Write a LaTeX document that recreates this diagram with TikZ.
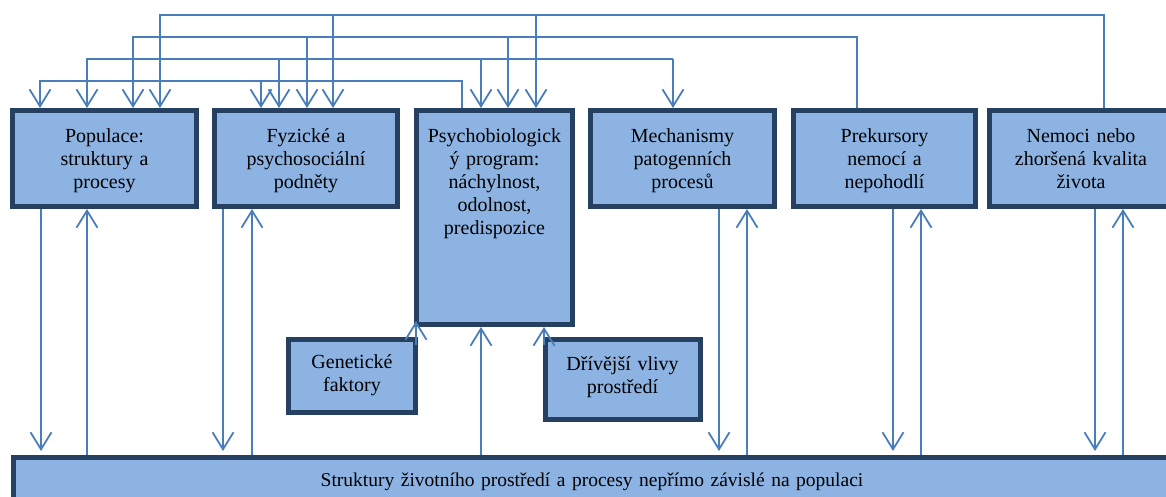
\documentclass[tikz,border=0pt]{standalone}
\usepackage{fontspec}
\setmainfont{Liberation Serif}
\usetikzlibrary{arrows.meta}
\definecolor{boxfill}{HTML}{8DB3E2}
\definecolor{boxline}{HTML}{254061}
\definecolor{linkblue}{HTML}{4A7EBB}

\begin{document}
\begin{tikzpicture}[x=1pt,y=-1pt,
  box/.style={rectangle, draw=boxline, line width=5pt, fill=boxfill,
    inner sep=0pt, anchor=north west},
  lbl/.style={anchor=base, align=center, text width=190pt, inner sep=0pt,
    font=\fontsize{20}{23}\selectfont},
  link/.style={draw=linkblue, line width=1.8pt},
  arr/.style={link, -{Straight Barb[length=17pt,width=21pt]}},
  down/.style={arr, shorten >=4pt},
]
\useasboundingbox (0,0) rectangle (1166,497);
\clip (0,0) rectangle (1166,497);

% boxes
\node[box, minimum width=184pt, minimum height=96pt]  (pop)  at (10,108)  {};
\node[box, minimum width=183pt, minimum height=96pt]  (fyz)  at (212,108) {};
\node[box, minimum width=156pt, minimum height=214pt] (psy)  at (414,108) {};
\node[box, minimum width=184pt, minimum height=96pt]  (mech) at (588,108) {};
\node[box, minimum width=182pt, minimum height=96pt]  (prek) at (791,108) {};
\node[box, minimum width=200pt, minimum height=96pt]  (nem)  at (987,108) {};
\node[box, minimum width=127pt, minimum height=73pt]  (gen)  at (286,337) {};
\node[box, minimum width=155pt, minimum height=80pt]  (dri)  at (543,337) {};
\node[box, minimum width=1180pt, minimum height=80pt] (env)  at (11,455)  {};

% labels
\node[lbl] (popT)  at (104.5,143) {Populace:\\struktury a\\procesy};
\node[lbl] (fyzT)  at (306,143)   {Fyzické a\\psychosociální\\podněty};
\node[lbl] (psyT)  at (494.5,143) {Psychobiologick\\ý program:\\náchylnost,\\odolnost,\\predispozice};
\node[lbl] (mechT) at (682.5,143) {Mechanismy\\patogenních\\procesů};
\node[lbl] (prekT) at (884.5,143) {Prekursory\\nemocí a\\nepohodlí};
\node[lbl] (nemT)  at (1081,143)  {Nemoci nebo\\zhoršená kvalita\\života};
\node[lbl] (genT)  at (352,368)   {Genetické\\faktory};
\node[lbl] (driT)  at (622.5,370) {Dřívější vlivy\\prostředí};
\node[lbl, text width=800pt, font=\fontsize{19.5}{23}\selectfont] (envT) at (592,486)
  {Struktury životního prostředí a procesy nepřímo závislé na populaci};

% feedback bus from Nemoci (top level)
\draw[arr] ([xshift=117pt]nem.north west) -- ++(0,-93) -| ([xshift=150pt]pop.north west);
\draw[arr] ([xshift=121pt,yshift=93pt]fyz.north west) -- ([xshift=121pt]fyz.north west);
\draw[arr] ([xshift=122pt,yshift=93pt]psy.north west) -- ([xshift=122pt]psy.north west);

% feedback bus from Prekursory
\draw[arr] ([xshift=66pt]prek.north west) -- ++(0,-71) -| ([xshift=123pt]pop.north west);
\draw[arr] ([xshift=95pt,yshift=71pt]fyz.north west) -- ([xshift=95pt]fyz.north west);
\draw[arr] ([xshift=94pt,yshift=71pt]psy.north west) -- ([xshift=94pt]psy.north west);

% third bus
\draw[arr] ([xshift=85pt,yshift=49pt]mech.north west) -| ([xshift=77pt]pop.north west);
\draw[arr] ([xshift=85pt,yshift=49pt]mech.north west) -- ([xshift=85pt]mech.north west);
\draw[arr] ([xshift=67pt,yshift=49pt]fyz.north west) -- ([xshift=67pt]fyz.north west);
\draw[arr] ([xshift=67pt,yshift=49pt]psy.north west) -- ([xshift=67pt]psy.north west);

% bus from the psychobiological programme
\draw[arr] ([xshift=48pt]psy.north west) -- ++(0,-27) -| ([xshift=30pt]pop.north west);
\draw[arr] ([xshift=49pt,yshift=27pt]fyz.north west) -- ([xshift=49pt]fyz.north west);

% exchanges with the environment
\draw[down] ([xshift=31pt]pop.south west)   -- ([xshift=30pt]env.north west);
\draw[arr]  ([xshift=76pt]env.north west)   -- ([xshift=77pt]pop.south west);
\draw[down] ([xshift=11pt]fyz.south west)   -- ([xshift=212pt]env.north west);
\draw[arr]  ([xshift=241pt]env.north west)  -- ([xshift=40pt]fyz.south west);
\draw[arr]  ([xshift=470pt]env.north west)  -- ([xshift=67pt]psy.south west);
\draw[down] ([xshift=131pt]mech.south west) -- ([xshift=708pt]env.north west);
\draw[arr]  ([xshift=736pt]env.north west)  -- ([xshift=159pt]mech.south west);
\draw[down] ([xshift=102pt]prek.south west) -- ([xshift=882pt]env.north west);
\draw[arr]  ([xshift=910pt]env.north west)  -- ([xshift=130pt]prek.south west);
\draw[down] ([xshift=108pt]nem.south west)  -- ([xshift=1084pt]env.north west);
\draw[arr]  ([xshift=1112pt]env.north west) -- ([xshift=136pt]nem.south west);

% inputs to the psychobiological programme
\draw[arr, shorten >=-6pt] ([xshift=-2pt,yshift=-8pt]gen.north east) -- ([xshift=2pt]psy.south west);
\draw[arr] ([xshift=1pt,yshift=-8pt]dri.north west) -- ([xshift=130pt]psy.south west);
\end{tikzpicture}
\end{document}
